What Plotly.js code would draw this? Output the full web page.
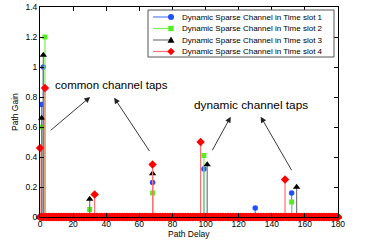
<!DOCTYPE html>
<html><head><meta charset="utf-8">
<script src="https://cdn.plot.ly/plotly-3.0.1.min.js"></script>
<style>html,body{margin:0;padding:0;background:#fff}#c{width:374px;height:240px}</style>
</head><body><div id="c"></div>
<script>
// Delay axis
const delayStart = 0, delayEnd = 180;
// Non-zero taps per time slot (delay, gain)
const slot1Delays = [1, 2, 68, 99, 130, 152];
const slot1Gains  = [0.75, 1.0, 0.23, 0.32, 0.06, 0.16];
const slot2Delays = [1, 3, 30, 68, 99, 152];
const slot2Gains  = [0.60, 1.20, 0.05, 0.16, 0.41, 0.10];
const slot3Delays = [1, 2, 30, 68, 101, 155];
const slot3Gains  = [0.66, 1.08, 0.12, 0.29, 0.35, 0.20];
const slot4Delays = [0, 3, 33, 68, 97, 148];
const slot4Gains  = [0.46, 0.86, 0.15, 0.35, 0.50, 0.25];
const seriesNames = ['Dynamic Sparse Channel in Time slot 1','Dynamic Sparse Channel in Time slot 2','Dynamic Sparse Channel in Time slot 3','Dynamic Sparse Channel in Time slot 4'];

function stemXY(delays, gains){
  const x=[], y=[];
  for(let d=delayStart; d<=delayEnd; d++){
    const i = delays.indexOf(d);
    const v = i>=0 ? gains[i] : 0;
    x.push(d,d,null); y.push(0,v,null);
  }
  return {x,y};
}
const styles = [
  {line:'#5a80ff', mk:'#1f4fff', sym:'circle', size:5.5},
  {line:'#7cf050', mk:'#55ee22', sym:'square', size:5},
  {line:'#7a7a7a', mk:'#000000', sym:'triangle-up', size:6.5},
  {line:'#ff7070', mk:'#ff0000', sym:'diamond', size:6.5}
];
const FONT = 'Liberation Sans, Arial';
const data = [[slot1Delays,slot1Gains],[slot2Delays,slot2Gains],[slot3Delays,slot3Gains],[slot4Delays,slot4Gains]].map((s,k)=>{
  const xy = stemXY(s[0], s[1]);
  return {x:xy.x, y:xy.y, name:seriesNames[k], type:'scatter', mode:'lines+markers', showlegend:false,
    line:{color:styles[k].line, width:1.2},
    marker:{color:styles[k].mk, symbol:styles[k].sym, size:styles[k].size, line:{width:0}},
    cliponaxis:false, connectgaps:false};
});
const axisCommon = {showline:true, linecolor:'#000', linewidth:1, mirror:'ticks', ticks:'inside', ticklen:4, tickcolor:'#000', showgrid:false, zeroline:false,
  tickfont:{family:FONT, size:8.5, color:'#000'}};
const arrow = {xref:'x', yref:'y', axref:'x', ayref:'y', showarrow:true, arrowhead:2, arrowsize:1.3, arrowwidth:0.9, arrowcolor:'#222', text:''};

// custom legend (plot area px: x 40..338, y 7..217)
const px = v => (v-40)/298, py = v => (217-v)/210;
const shapes = [{type:'rect', xref:'paper', yref:'paper', x0:px(148), x1:px(334), y0:py(57), y1:py(10), line:{color:'#555', width:1}, fillcolor:'#fff', layer:'above'}];
const legAnn = [];
const rows = [17, 28.5, 40, 51.5];
rows.forEach((r,k)=>{
  shapes.push({type:'line', xref:'paper', yref:'paper', x0:px(153), x1:px(173), y0:py(r), y1:py(r), line:{color:styles[k].line, width:1.2}, layer:'above'});
  const cx = px(171), cy = py(r);
  const base = {xref:'paper', yref:'paper', xsizemode:'pixel', ysizemode:'pixel', xanchor:cx, yanchor:cy, fillcolor:styles[k].mk, line:{width:0}, layer:'above'};
  if(k===0) shapes.push(Object.assign({}, base, {type:'circle', x0:-3, x1:3, y0:-3, y1:3}));
  if(k===1) shapes.push(Object.assign({}, base, {type:'rect', x0:-2.7, x1:2.7, y0:-2.7, y1:2.7}));
  if(k===2) shapes.push(Object.assign({}, base, {type:'path', path:'M-3.5,-2.8 L3.5,-2.8 L0,3.5 Z'}));
  if(k===3) shapes.push(Object.assign({}, base, {type:'path', path:'M0,-3.8 L3.8,0 L0,3.8 L-3.8,0 Z'}));
  legAnn.push({xref:'paper', yref:'paper', x:px(180), y:cy, xanchor:'left', yanchor:'middle', showarrow:false, text:seriesNames[k], font:{family:FONT, size:8, color:'#000'}});
});

const layout = {
  width:374, height:240, margin:{l:40, r:36, t:7, b:23},
  paper_bgcolor:'#fff', plot_bgcolor:'#fff', showlegend:false,
  xaxis:Object.assign({}, axisCommon, {range:[0,180], tick0:0, dtick:20, ticklabelstandoff:-1}),
  yaxis:Object.assign({}, axisCommon, {range:[0,1.4], tick0:0, dtick:0.2}),
  shapes: shapes,
  annotations:[
    {xref:'paper', yref:'paper', x:0.5, y:py(233.5), yanchor:'middle', showarrow:false, text:'Path Delay', font:{family:FONT, size:8.5, color:'#000'}},
    {xref:'paper', yref:'paper', x:px(15), y:0.5, xanchor:'center', showarrow:false, textangle:-90, text:'Path Gain', font:{family:FONT, size:8.5, color:'#000'}},
    {xref:'x', yref:'y', x:43.3, y:0.88, text:'common channel taps', showarrow:false, font:{family:FONT, size:11.5, color:'#000'}},
    {xref:'x', yref:'y', x:127.6, y:0.75, text:'dynamic channel taps', showarrow:false, font:{family:FONT, size:11.8, color:'#000'}},
    Object.assign({}, arrow, {x:30.3, y:0.80, ax:5.6, ay:0.57}),
    Object.assign({}, arrow, {x:44.8, y:0.795, ax:66.7, ay:0.43}),
    Object.assign({}, arrow, {x:115.2, y:0.669, ax:103.6, ay:0.435}),
    Object.assign({}, arrow, {x:133.3, y:0.669, ax:152.5, ay:0.302})
  ].concat(legAnn)
};
Plotly.newPlot('c', data, layout, {staticPlot:true, displayModeBar:false});
</script></body></html>
